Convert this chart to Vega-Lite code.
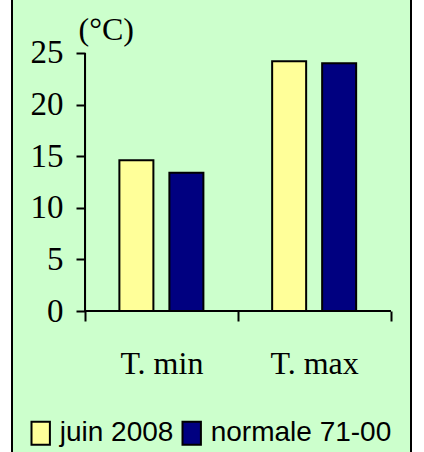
{
  "$schema": "https://vega.github.io/schema/vega-lite/v6.json",
  "width": 399,
  "height": 460,
  "autosize": {"type": "none"},
  "padding": {"left": 12, "right": 13, "top": -4, "bottom": -4},
  "background": "white",
  "config": {
    "view": {"fill": "#CCFFCC", "stroke": "black", "strokeWidth": 2}
  },
  "data": {
    "values": [
      {"cat": "T. min", "series": "juin 2008", "value": 14.6},
      {"cat": "T. min", "series": "normale 71-00", "value": 13.4},
      {"cat": "T. max", "series": "juin 2008", "value": 24.2},
      {"cat": "T. max", "series": "normale 71-00", "value": 24.0}
    ]
  },
  "layer": [
    {
      "mark": {"type": "bar", "stroke": "black", "strokeWidth": 2},
      "encoding": {
        "x": {
          "field": "cat",
          "type": "nominal",
          "sort": ["T. min", "T. max"],
          "scale": {"paddingInner": 0, "paddingOuter": 0.306, "align": 0.781},
          "axis": {
            "orient": "bottom",
            "offset": -145,
            "domain": false,
            "tickBand": "extent",
            "tickSize": 10,
            "tickWidth": 2,
            "tickColor": "black",
            "labelAngle": 0,
            "labelFont": "Liberation Serif",
            "labelFontSize": 32,
            "labelColor": "black",
            "labelBaseline": "alphabetic",
            "labelPadding": 52,
            "title": null
          }
        },
        "xOffset": {
          "field": "series",
          "sort": ["juin 2008", "normale 71-00"],
          "scale": {"paddingInner": 0.32, "paddingOuter": 0.6875}
        },
        "y": {
          "field": "value",
          "type": "quantitative",
          "scale": {"domain": [-14.05, 30.523], "nice": false, "zero": false},
          "axis": {
            "values": [0, 5, 10, 15, 20, 25],
            "offset": -73,
            "domain": false,
            "grid": false,
            "tickSize": 9,
            "tickWidth": 2,
            "tickColor": "black",
            "labelFont": "Liberation Serif",
            "labelFontSize": 33,
            "labelColor": "black",
            "labelPadding": 13,
            "title": "(°C)",
            "titleAngle": 0,
            "titleX": -7,
            "titleY": 43,
            "titleAlign": "left",
            "titleBaseline": "alphabetic",
            "titleFont": "Liberation Serif",
            "titleFontSize": 32,
            "titleFontWeight": "normal",
            "titleColor": "black"
          }
        },
        "y2": {"datum": 0},
        "color": {
          "field": "series",
          "type": "nominal",
          "scale": {"domain": ["juin 2008", "normale 71-00"], "range": ["#FFFF99", "#000080"]},
          "legend": {
            "orient": "none",
            "legendX": 14.7,
            "legendY": 423,
            "direction": "horizontal",
            "title": null,
            "padding": 0,
            "labelFont": "Liberation Sans",
            "labelFontSize": 28,
            "labelColor": "black",
            "labelLimit": 300,
            "labelOffset": 5,
            "columnPadding": 4,
            "symbolType": "M-0.8,-1H0.8V1H-0.8Z",
            "symbolSize": 529,
            "symbolStrokeColor": "black",
            "symbolStrokeWidth": 2,
            "symbolOpacity": 1
          }
        }
      }
    },
    {
      "mark": {"type": "rule", "color": "black", "strokeWidth": 2},
      "encoding": {
        "x": {"datum": "T. min", "type": "nominal", "bandPosition": 0},
        "y": {"datum": 0, "type": "quantitative"},
        "y2": {"datum": 25}
      }
    },
    {
      "mark": {"type": "rule", "color": "black", "strokeWidth": 2},
      "encoding": {
        "y": {"datum": 0, "type": "quantitative"},
        "x": {"datum": "T. min", "type": "nominal", "bandPosition": 0},
        "x2": {"datum": "T. max", "bandPosition": 1}
      }
    }
  ]
}
